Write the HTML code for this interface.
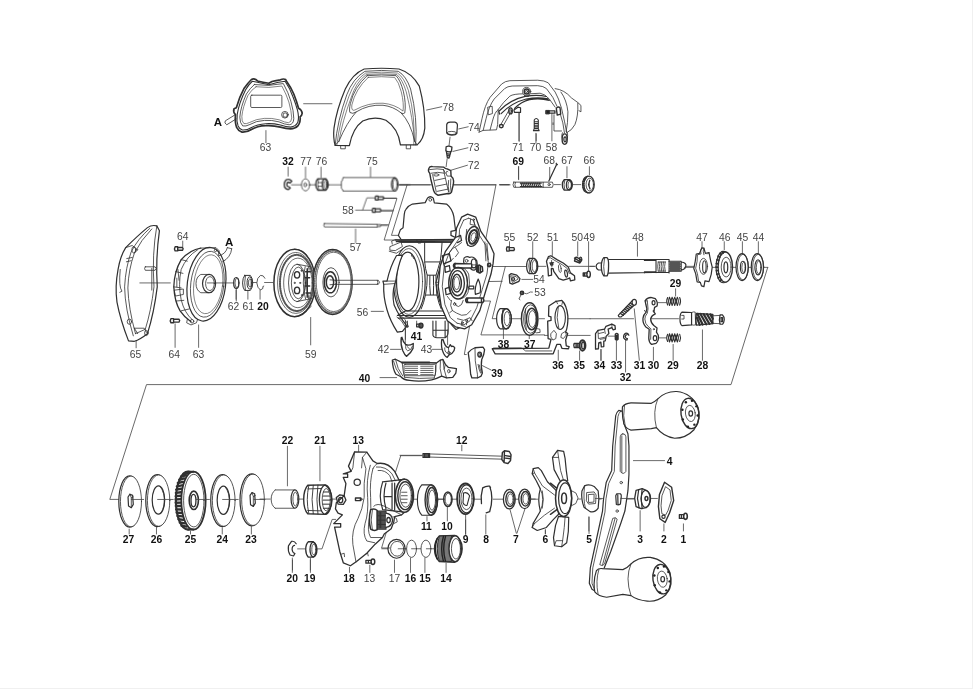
<!DOCTYPE html>
<html><head><meta charset="utf-8"><title>Parts diagram</title>
<style>
html,body{margin:0;padding:0;background:#fff;}
svg{display:block}
svg *{vector-effect:non-scaling-stroke}
.d{fill:none;stroke:#303030;stroke-width:0.8;stroke-linecap:round;stroke-linejoin:round}
.w{fill:#fff}
.k{fill:#222}
.g{fill:#888}
.l{stroke:#444;stroke-width:0.8}
text{font-family:"Liberation Sans",sans-serif;font-size:10.3px;fill:#444;text-anchor:middle;stroke:none}
text.b{font-weight:bold;fill:#111}
</style></head><body>
<svg width="973" height="689" viewBox="0 0 973 689">
<rect width="973" height="689" fill="#fff"/>
<rect x="972" y="0" width="1" height="689" fill="#f0f0f0"/><rect x="0" y="688" width="973" height="1" fill="#f0f0f0"/>
<g class="d" style="opacity:.999">
<g><path d="M767.7,267.5 L731,384.6 H146.5 L109.8,499.4 H119" class="l"/>
<path d="M490.5,266.5 H526 M505.3,266.5 L492.2,318.7 H498.5 M460,282 L502.2,281.3 M482.7,301 H490.5 L480.9,334.9 H544.5" class="l"/></g>
<g transform="translate(205 65) scale(0.14507)"><path d="M320,100 Q335,92 350,100 L362,110 Q400,118 440,126 L462,114 Q490,105 520,102 Q540,92 556,100 L562,112 Q590,150 612,200 Q632,250 645,298 Q668,310 670,332 Q668,350 656,356 Q660,395 640,420 Q620,440 590,440 Q560,440 520,428 Q470,415 420,418 Q360,420 320,445 Q290,465 255,463 Q230,455 218,430 Q205,395 210,342 Q192,325 200,302 L216,294 Q235,225 270,160 Q295,125 320,100Z" style="stroke-width:1.7"/>
<path d="M326,112 Q400,128 440,136 Q500,118 552,112 Q585,160 605,215 Q625,265 637,310 Q650,360 640,395 Q625,425 590,428 Q560,428 520,414 Q470,402 420,405 Q360,408 318,432 Q290,450 258,448 Q238,442 228,420 Q216,385 222,340 Q235,260 280,170 Q300,135 326,112Z" style="stroke-width:1.1"/>
<path d="M340,135 Q440,150 540,128 Q575,190 592,250 Q612,320 612,370 Q610,410 580,412 Q550,410 510,392 Q460,378 410,382 Q350,385 310,410 Q280,425 260,420 Q240,400 240,360 Q245,290 285,200 Q310,160 340,135Z"/>
<path d="M352,150 Q440,162 530,145 Q560,200 578,255 Q596,320 598,365 Q596,395 575,398 Q550,396 512,378 Q460,364 410,368 Q350,372 308,396 Q285,408 268,404 Q252,390 254,355 Q260,290 296,210 Q320,170 352,150Z" style="stroke-width:.6"/>
<rect x="315" y="208" width="215" height="85" rx="8"/>
<circle cx="551" cy="343" r="23"/><circle cx="553" cy="345" r="15"/>
<path d="M205,345 L140,385 Q130,400 150,412 L214,372"/>
<path d="M420,452 V535 M680,267 H875" class="l"/></g>
<g transform="translate(325 60) scale(0.14507)"><path d="M70,588 Q55,540 62,470 Q80,340 140,200 Q190,95 270,62 Q390,52 510,62 Q600,90 650,180 Q690,330 688,470 Q680,550 635,585 L520,585 Q505,470 420,415 Q340,385 260,420 Q190,470 168,590 Z" style="stroke-width:1.2"/>
<path d="M70,588 Q85,420 150,240 Q190,130 275,78 Q390,66 505,78 Q560,110 590,200 Q640,400 625,585"/>
<path d="M82,585 Q100,420 165,250 Q205,140 280,90 Q390,78 500,90 Q545,120 575,210 Q625,400 612,585" style="stroke-width:.6"/>
<path d="M96,560 Q120,420 180,260 Q215,150 285,100 Q390,90 495,100 Q535,135 560,220 Q605,400 618,560" style="stroke-width:.6"/>
<path d="M290,108 Q390,98 490,108 Q520,140 540,215 Q560,300 550,365 Q540,375 525,365 Q470,320 400,312 Q300,305 215,358 Q190,375 172,362 Q165,345 175,300 Q200,190 290,108Z"/>
<path d="M298,120 Q390,110 480,120 Q508,150 526,220 Q545,300 538,352 Q480,305 400,298 Q300,292 205,345 Q180,355 185,310 Q210,200 298,120Z" style="stroke-width:.6"/>
<path d="M96,560 Q150,430 215,358 M618,560 Q590,430 525,365 M70,588 L96,560 M635,585 L618,560"/>
<path d="M108,590 V612 H140 V590 M560,588 V612 H590 V588"/>
<path d="M700,345 L805,322" class="l"/></g>
<g transform="translate(270 150) scale(0.14507)"><path d="M125,118 V180 M245,118 V190 M352,118 V190 M693,118 V185 M590,545 V640 M148,240 H215 M275,240 H315 M400,240 H490 M885,240 H965" class="l"/>
<path d="M590,415 H638 L668,330 H725 M638,415 H705 M785,332 H870 M765,415 H850 M765,520 H810" class="l"/>
<!-- 32 clip -->
<path d="M150,215 Q135,195 112,205 Q92,225 100,255 Q108,272 128,272 L140,262 L128,252 Q118,255 116,240 Q116,222 128,222 L138,228 Z" style="stroke-width:1.3"/>
<!-- 77 -->
<ellipse cx="245" cy="240" rx="28" ry="42"/><ellipse cx="243" cy="240" rx="9" ry="14"/>
<!-- 76 -->
<path d="M330,198 H385 Q402,215 402,240 Q402,262 385,277 H330 Q315,262 315,238 Q315,212 330,198Z" style="stroke-width:1.3"/>
<ellipse cx="378" cy="238" rx="18" ry="38" style="stroke-width:1.3"/><ellipse cx="380" cy="238" rx="10" ry="26"/>
<path d="M335,200 Q322,238 335,275 M330,225 H360 M330,250 H360"/>
<!-- 75 -->
<path d="M505,190 H860 M505,283 H860 M505,190 Q498,195 500,210 L492,215 V265 L500,272 Q500,283 505,283"/>
<ellipse cx="860" cy="237" rx="22" ry="46" style="stroke-width:1.3"/><ellipse cx="862" cy="237" rx="14" ry="36"/>
<!-- 58 screws -->
<path d="M728,318 H745 V345 H728 Q722,332 728,318Z M745,322 H780 Q788,332 780,342 H745" style="stroke-width:1.3"/>
<path d="M708,402 H725 V430 H708 Q702,416 708,402Z M725,406 H760 Q768,416 760,426 H725" style="stroke-width:1.3"/>
<!-- 57 -->
<path d="M375,507 L740,512 L745,514 H762 V528 H745 L740,532 L375,530 Q365,518 375,507Z M740,512 V532"/></g>
<g transform="translate(400 105) scale(0.14507)"><path d="M405,165 L470,150 M345,222 L338,280 M365,320 L468,295 M325,370 L318,425 M350,450 L465,415 M0,550 H215 M365,550 H660 M685,550 H750 M822,55 V250 M937,195 V265 M818,425 V515" class="l"/>
<!-- 74 -->
<path d="M322,135 Q325,118 345,118 H378 Q395,122 396,138 L392,195 Q385,208 358,208 Q330,205 322,192 Z" style="stroke-width:1.2"/>
<ellipse cx="357" cy="193" rx="33" ry="11"/>
<!-- 73 -->
<path d="M318,288 Q335,278 358,290 L355,318 Q338,328 316,316 Z M320,322 L326,362 L338,366 L350,324 M322,335 L346,340 M324,348 L343,352" style="stroke-width:1.3"/>
<!-- 72 -->
<path d="M200,435 Q205,422 225,425 L300,428 Q315,442 325,440 L350,452 L352,490 L365,505 Q372,520 368,545 L355,600 Q345,615 330,610 L262,622 Q240,615 232,590 L212,510 L205,470 Q190,455 200,435Z" style="stroke-width:1.4"/>
<path d="M205,445 Q260,435 300,445 L312,470 M215,470 Q260,458 305,470 L335,600 M225,480 L250,600 M305,470 L300,445 M330,460 Q318,450 318,470 L325,490 L352,490 M335,520 Q328,560 338,600 M350,510 Q345,560 352,598 M240,520 L310,505 M250,560 L322,545 M258,595 L330,580" />
<ellipse cx="250" cy="482" rx="18" ry="8"/></g>
<g transform="translate(475 70) scale(0.11616)"><path d="M378,365 V610 M527,550 V610 M662,375 V610" class="l"/>
<path d="M35,535 L60,420 Q85,300 130,235 L230,120 Q260,95 300,92 L540,88 Q600,90 630,110 L690,190 Q720,240 745,330 L770,440 L790,540"/>
<path d="M70,520 L95,420 Q120,310 165,250 L255,160 Q280,140 320,138 L540,135 Q590,138 615,160 L670,235 L705,310"/>
<path d="M35,535 L70,520 L185,515 L195,470 L200,340 Q240,280 300,225 Q330,205 420,205 M470,205 L560,200 Q600,205 640,250 L690,320"/>
<path d="M112,320 L148,312 L150,375 L118,385 Z M130,515 L150,440 Q170,360 200,340"/>
<path d="M205,355 Q300,255 440,225 Q540,210 615,228 M225,375 Q320,280 440,250 Q540,232 630,248 M205,355 L212,380 M340,330 Q400,272 470,255 Q560,240 640,262" style="stroke-width:1.2"/>
<circle cx="445" cy="185" r="35" class="w"/><circle cx="445" cy="185" r="21" style="stroke-width:1.5"/><circle cx="445" cy="185" r="9"/>
<path d="M425,215 L430,228 H462 L466,212"/>
<path d="M290,350 L222,470 M308,365 L240,485"/><ellipse cx="226" cy="483" rx="16" ry="14" class="w" style="stroke-width:1.4"/>
<ellipse cx="306" cy="352" rx="15" ry="26" class="w" style="stroke-width:1.4"/><ellipse cx="308" cy="354" rx="7" ry="14"/>
<path d="M335,345 L370,320 L392,325 V365 H340 Z" class="w" style="stroke-width:1.2"/>
<path d="M612,348 H640 V378 H612 Z" class="k" style="stroke-width:1"/><path d="M640,352 H688 V372 H640" style="stroke-width:1.3"/>
<path d="M700,330 Q715,310 732,325 L738,380 L708,388 Z" class="w" style="stroke-width:1.4"/>
<path d="M680,385 V525 H745 M735,380 Q760,450 770,540 M672,455 V470"/>
<path d="M690,160 Q770,170 830,240 L885,280 L912,305 V360 L895,350 M885,285 Q890,400 860,470 Q835,520 790,540 M740,190 Q790,260 800,360 Q800,460 785,530"/>
<ellipse cx="772" cy="595" rx="22" ry="45" class="w" style="stroke-width:1.4"/><ellipse cx="775" cy="597" rx="10" ry="22" style="stroke-width:1.2"/>
<path d="M752,540 Q742,560 750,585 M795,540 Q800,560 796,585"/>
<path d="M510,430 Q527,405 545,430 V505 L552,522 H503 L510,505 Z M510,445 H545 M510,460 H545 M510,475 H545 M510,490 H545 M510,505 H545" style="stroke-width:1.1"/></g>
<g transform="translate(500 155) scale(0.12333)"><path d="M150,95 V195 M403,100 V200 M543,95 V185 M725,95 V160 M0,240 H75 M440,240 H490 M590,240 H655" class="l"/>
<path d="M460,75 L396,210 M455,72 L465,78" style="stroke-width:1.2"/>
<path d="M112,220 H425 Q438,240 425,262 H112 Q98,240 112,220Z M125,222 Q115,240 125,260 M350,222 V262"/>
<path d="M168,225 L180,258 M183,225 L195,258 M198,225 L210,258 M213,225 L225,258 M228,225 L240,258 M243,225 L255,258 M258,225 L270,258 M273,225 L285,258 M288,225 L300,258 M303,225 L315,258 M318,225 L330,258 M165,228 H335 M165,256 H340" style="stroke-width:1.1"/>
<circle cx="398" cy="240" r="9"/>
<!-- 67 -->
<path d="M520,200 H565 Q588,215 586,245 Q584,275 565,285 H520 Q505,270 505,242 Q505,215 520,200Z" style="stroke-width:1.3"/>
<ellipse cx="560" cy="243" rx="22" ry="38" style="stroke-width:1.2"/><ellipse cx="565" cy="243" rx="14" ry="28"/>
<path d="M525,205 Q512,240 525,280"/>
<!-- 66 -->
<ellipse cx="722" cy="240" rx="42" ry="68" style="stroke-width:1.3"/>
<path d="M712,172 Q670,180 670,240 Q670,300 712,308" style="stroke-width:1.2"/>
<ellipse cx="728" cy="240" rx="30" ry="52"/>
<path d="M728,205 L718,240 L730,275 M722,225 V255" style="stroke-width:1.3"/>
<path d="M672,215 H684 M669,230 H681 M669,245 H681 M670,260 H682 M675,275 H687 M683,290 H693 M678,200 H690 M688,187 H698" style="stroke-width:1.2"/></g>
<g transform="translate(105 215) scale(0.21772)"><path d="M357,120 V145 M143,580 V610 M322,500 V608 M430,505 V608 M603,340 V395 M160,312 H300 M470,312 H590" class="l"/>
<!-- 65 -->
<path d="M195,58 Q215,44 238,50 L250,72 Q232,200 240,330 Q225,450 195,545 Q160,572 135,580 L108,578 Q70,480 55,400 Q45,330 60,250 Q70,190 95,150 Q150,95 195,58Z" style="stroke-width:1.2"/>
<path d="M238,50 Q215,180 225,330 Q212,440 185,525 M205,62 Q150,110 120,170 Q95,240 90,330 Q92,430 130,555 M215,64 Q165,115 135,175 Q108,250 105,335 Q108,430 140,545 M95,150 L125,140 L150,160 M135,175 L150,160 M70,250 Q62,330 78,350 L68,355 M140,545 L185,525 M135,520 H180 L195,545 M135,520 L150,545"/>
<path d="M215,245 V345 M185,238 H230 Q240,246 230,254 H185 Q178,246 185,238Z"/>
<ellipse cx="132" cy="160" rx="9" ry="14"/><ellipse cx="112" cy="490" rx="10" ry="12"/><ellipse cx="190" cy="542" rx="8" ry="12"/>
<path d="M100,200 L125,195 M98,215 L120,210"/>
<!-- 64 screws -->
<path d="M322,146 H334 V165 H322 Q316,155 322,146Z M334,149 H356 Q362,155 356,162 H334" style="stroke-width:1.4"/>
<path d="M303,476 H315 V495 H303 Q297,485 303,476Z M315,479 H340 Q346,485 340,492 H315" style="stroke-width:1.4"/>
<!-- 63 side -->
<ellipse cx="466" cy="318" rx="88" ry="170" transform="rotate(7 466 318)" style="stroke-width:1.2"/>
<ellipse cx="470" cy="318" rx="76" ry="152" transform="rotate(7 470 318)"/>
<ellipse cx="474" cy="318" rx="66" ry="136" transform="rotate(7 474 318)" style="stroke-width:.6"/>
<path d="M440,152 Q390,160 350,205 Q318,260 316,330 Q320,400 345,440 Q365,470 395,490" style="stroke-width:1.3"/>
<path d="M425,160 Q375,190 350,250 Q335,320 350,390 Q365,450 400,480 M350,205 L378,212 M325,260 L358,268 M316,330 L350,335 M328,395 L362,392 M350,440 L385,432 M320,345 L360,340 V365 L325,372 Z M335,250 L340,300 M330,290 V330" />
<path d="M440,152 L510,150 L525,165 L520,185 M378,480 L375,495 L395,505 L420,495 L425,480"/><circle cx="400" cy="488" r="8"/><circle cx="508" cy="162" r="6"/>
<ellipse cx="478" cy="315" rx="30" ry="42" style="stroke-width:1.2"/><ellipse cx="482" cy="315" rx="20" ry="32"/>
<path d="M478,273 H440 Q418,285 418,315 Q418,345 440,357 H478"/>
<path d="M522,188 Q555,180 562,150 M540,215 Q578,195 582,155 M562,150 L582,155"/>
<!-- 62 -->
<ellipse cx="603" cy="312" rx="12" ry="25" style="stroke-width:1.2"/><ellipse cx="606" cy="312" rx="9" ry="21"/></g>
<g transform="translate(230 225) scale(0.20321)"><path d="M30,320 V365 M88,325 V365 M148,320 V365 M397,455 V590 M170,283 H210 M112,283 H130" class="l"/>
<!-- 61 -->
<path d="M72,248 H100 Q112,262 112,285 Q112,308 100,322 H72 Q62,308 62,285 Q62,262 72,248Z" style="stroke-width:1"/>
<ellipse cx="96" cy="285" rx="12" ry="30" style="stroke-width:1"/><ellipse cx="98" cy="285" rx="7" ry="20"/>
<path d="M76,250 Q68,285 76,320"/>
<!-- 20 -->
<path d="M172,262 Q165,245 150,248 Q132,260 132,285 Q134,310 150,320 L162,312 Q158,300 166,300"/>
<!-- 59 spool -->
<ellipse cx="318" cy="285" rx="102" ry="166" style="stroke-width:1.5"/>
<ellipse cx="324" cy="285" rx="90" ry="150" style="stroke-width:.7"/>
<ellipse cx="328" cy="285" rx="82" ry="138" style="stroke-width:2;stroke-dasharray:1.2 1.2;stroke:#555"/>
<ellipse cx="334" cy="285" rx="70" ry="122" style="stroke-width:.7"/>
<path d="M318,119 Q350,118 380,150 M318,451 Q350,452 400,400" />
<!-- hub -->
<ellipse cx="330" cy="285" rx="42" ry="92" class="w"/>
<ellipse cx="336" cy="285" rx="34" ry="78"/>
<path d="M330,193 L395,205 M330,377 L400,362 M370,205 Q350,285 372,365 M385,210 Q368,285 388,362" />
<ellipse cx="330" cy="245" rx="13" ry="16" style="stroke-width:1.3"/><ellipse cx="330" cy="322" rx="13" ry="16" style="stroke-width:1.3"/>
<circle cx="352" cy="225" r="3"/><circle cx="354" cy="345" r="3"/><circle cx="318" cy="285" r="3"/><circle cx="345" cy="285" r="3"/>
<path d="M372,230 H395 M370,260 H392 M370,300 H392 M374,335 H396 M380,215 V355" style="stroke-width:1.5"/>
<!-- right flange -->
<ellipse cx="505" cy="280" rx="96" ry="160" class="w" style="stroke-width:1.5"/>
<ellipse cx="510" cy="280" rx="86" ry="146" style="stroke-width:.7"/><ellipse cx="508" cy="280" rx="91" ry="153" style="stroke-width:1.6;stroke-dasharray:1 1.4;stroke:#666"/>
<ellipse cx="497" cy="282" rx="40" ry="72"/>
<ellipse cx="494" cy="282" rx="30" ry="52" style="stroke-width:1.5"/>
<ellipse cx="492" cy="282" rx="18" ry="32" style="stroke-width:1.5"/>
<path d="M492,270 L520,272 H730 Q742,282 730,292 H520 L492,294 M520,272 Q528,282 520,292 M725,272 Q732,282 725,292" />
<path d="M695,425 H755" class="l"/></g>
<g transform="translate(375 175) scale(0.20321)"><path d="M120,48.5 H270 M390,48.5 H595 M615,48.5 H665 M158,48.5 L81,297 H115 M40,115 H108 L45,320 H95 M30,178 H88 M30,245 H66 M595,48.5 L440,880" class="l"/>
<!-- hood -->
<path d="M115,297 L125,269 L138,260 L144,194 Q146,175 152,169 Q165,150 184,143 L247,136 L258,114 Q272,100 287,114 L292,137 L352,143 Q380,165 388,205 L392,240 L396,269 L436,286 L445,317 L130,320 L115,297Z" class="w" style="stroke-width:1.2"/>
<circle cx="272" cy="122" r="7"/>
<path d="M100,320 L445,317 M105,328 L440,325" style="stroke-width:1.4"/>
<path d="M205,320 L212,335 H225 L228,320"/>
<!-- ears -->
<path d="M75,352 L128,330 L135,352 L100,372 L75,370 Z M85,340 L82,325 L100,318 L128,322 M70,375 L105,385 L140,362"/>
<path d="M380,335 L418,320 L432,345 L398,365 Z M398,365 L400,395 M418,290 L440,295 L440,330 L418,320"/></g>
<g transform="translate(375 225) scale(0.17422)"><path d="M150,100 H440 M285,100 V210 Q288,250 300,290 Q300,350 290,400 Q280,450 265,482 M385,100 Q382,160 375,205 Q362,250 350,290 Q350,350 355,400 Q365,450 380,482 M285,212 H375 M300,288 H350 M290,402 H355 M315,290 Q312,350 318,400 M335,290 Q338,350 335,400" style="stroke-width:1"/>
<path d="M395,175 Q372,240 350,330 L352,345 Q360,420 395,500 Q425,565 465,600 L485,590 Q440,540 420,480 Q400,400 405,322 Z" class="w" style="stroke-width:1.2"/>
<path d="M350,330 L405,322 M352,345 L404,338"/></g>
<g transform="translate(375 250) scale(0.20321)"><!-- ring -->
<ellipse cx="169" cy="155" rx="78" ry="176" class="w" style="stroke-width:1.2"/>
<ellipse cx="166" cy="155" rx="68" ry="162" style="stroke-width:.7"/>
<ellipse cx="161" cy="155" rx="55" ry="145" class="w" style="stroke-width:1.2"/>
<path d="M185,30 L190,42 M180,20 V30"/>
<path d="M106,27 Q75,80 59,153 L39,153 L43,169 Q40,230 59,294 Q75,350 110,404 L135,400 L157,373 Q120,330 94,271 Q82,216 98,165 L102,153 Q112,80 135,25 Z" class="w" style="stroke-width:1.2"/>
<path d="M43,169 L98,165 M59,153 H102"/>
<!-- lower bars -->
<path d="M150,300 H340 M110,322 H345 M115,335 H350 M150,300 L110,322" style="stroke-width:1.1"/>
<path d="M108,330 Q130,340 150,380 L165,378 Q150,335 125,322"/>
<path d="M150,350 V440 M160,350 V380 M205,350 V365"/>
<!-- 41 screw -->
<ellipse cx="226" cy="372" rx="10" ry="12" style="stroke-width:1.4;fill:#555"/><path d="M205,365 H222 M205,378 H222 M205,365 V378" style="stroke-width:1.3"/>
<!-- foot block -->
<path d="M285,350 V420 Q290,432 305,432 H345 Q360,425 360,400 V350 M300,350 V425 M345,350 V430 M285,395 H360" style="stroke-width:1.1"/></g>
<g transform="translate(425 205) scale(0.20305)"><path d="M210,45 L250,60 L275,130 L320,195 L340,240 L335,290 L325,340 L300,420 L270,520 L230,590 L195,610 L150,600 L110,570 L80,500 L65,400 L75,300 L100,230 L150,160 L155,115 L180,60 Z" class="w" style="stroke-width:1.3"/>
<path d="M215,65 L238,75 L262,140 L300,200 L312,285 L305,340 L282,415 L255,505 L222,570 L192,590 L158,582 M190,75 L170,120 L168,165 L118,238 L95,300 L85,400 L98,490 L125,555 L158,582"/>
<path d="M215,65 L190,75 M225,68 L222,95 L245,100 L240,75 M295,182 L300,275 M305,190 L312,270"/>
<circle cx="240" cy="72" r="4"/>
<!-- top bearing -->
<ellipse cx="235" cy="155" rx="31" ry="50" transform="rotate(14 235 155)" style="stroke-width:1.3"/>
<ellipse cx="237" cy="157" rx="20" ry="35" transform="rotate(14 237 157)" style="stroke-width:2"/>
<ellipse cx="238" cy="158" rx="11" ry="22" transform="rotate(14 238 158)"/>
<path d="M205,120 Q195,160 210,200"/>
<!-- screw right -->
<circle cx="316" cy="296" r="8" style="stroke-width:1.5"/><path d="M308,290 L322,286 M310,300 L325,297"/>
<!-- keyhole -->
<path d="M192,262 Q205,248 220,258 Q240,250 255,275 Q262,305 245,320 Q228,325 218,300 Q195,300 190,280 Z" style="stroke-width:1.2"/>
<ellipse cx="240" cy="288" rx="12" ry="22" style="stroke-width:1.2"/><circle cx="205" cy="275" r="7"/>
<!-- horizontal post -->
<path d="M145,288 Q135,298 145,310 H230 V290 Z M150,288 Q142,298 150,310" class="w" style="stroke-width:1.4"/>
<path d="M255,300 L268,296 L282,305 L284,325 L270,335 L255,328 Z M262,300 V330 M272,298 V333" style="stroke-width:1.6"/>
<path d="M230,295 H255 M230,308 H255"/>
<!-- left blocks -->
<path d="M150,160 L128,150 L128,130 L150,125 M85,250 L120,240 L128,275 L92,290 Z M92,290 L95,300 M98,305 L120,298 L124,325 L100,332 Z M100,412 L122,405 L126,435 L104,442 Z M150,160 L175,150 L180,175 L160,185" style="stroke-width:1.3"/>
<path d="M118,238 L135,215 L160,200 L180,185 M128,275 L140,262 M150,210 L165,235 L150,255"/>
<!-- center boss -->
<ellipse cx="163" cy="385" rx="46" ry="78" style="stroke-width:1.4"/>
<ellipse cx="160" cy="385" rx="34" ry="62" style="stroke-width:1.3"/>
<ellipse cx="157" cy="385" rx="22" ry="44" style="stroke-width:1.5"/>
<ellipse cx="156" cy="385" rx="14" ry="32"/>
<path d="M163,307 Q200,305 215,340 Q225,385 212,430 Q200,458 175,462"/>
<!-- teardrop -->
<path d="M262,365 Q278,400 272,432 L248,440 Q242,410 262,365Z" style="stroke-width:1.2"/>
<!-- small post -->
<path d="M218,400 Q212,406 218,413 H240 V400 Z" style="stroke-width:1.2"/>
<!-- post 2 -->
<path d="M205,458 Q195,468 205,480 H285 Q295,470 285,458 Z M212,458 Q204,468 212,480 M278,458 V480" class="w" style="stroke-width:1.4"/>
<!-- lower left details -->
<path d="M130,470 Q120,495 135,520 L155,532 Q180,550 205,540 L225,520 M145,480 Q150,500 165,500 L180,490 L188,470 M135,520 L122,530 M160,560 L190,568 L222,555 L232,570 M182,572 L178,592 L198,598 M208,565 L204,590 M110,450 L125,470"/>
<circle cx="146" cy="488" r="6"/><circle cx="205" cy="570" r="5"/><circle cx="185" cy="580" r="4"/></g>
<g transform="translate(380 320) scale(0.12333)"><path d="M85,238 H170 M425,238 H500 M0,467 H135 M830,370 L900,405 M205,60 V190 M548,80 V200 M685,280 H700" class="l"/>
<!-- 42 -->
<path d="M172,142 Q165,200 185,250 Q200,285 215,295 Q250,270 268,230 L270,190 Q235,212 210,200 Q185,175 178,140 Z" class="w" style="stroke-width:1.3"/>
<path d="M210,200 Q200,235 225,250 Q255,245 262,215 M220,215 L240,235"/>
<!-- 43 -->
<path d="M500,160 Q492,220 515,270 Q530,300 545,302 L560,282 Q590,272 600,250 L606,225 Q595,208 580,215 L570,200 L555,225 Q525,215 512,160Z" class="w" style="stroke-width:1.3"/>
<path d="M525,225 Q520,255 545,270 M555,225 L560,282"/><circle cx="558" cy="265" r="10"/>
<!-- 40 -->
<path d="M100,325 L125,318 L180,345 L400,345 L455,350 L490,325 L510,320 L530,360 L555,385 L620,395 L615,430 L590,465 L540,470 L500,455 Q450,480 420,485 Q330,502 240,490 Q190,485 170,460 L130,440 Q102,400 100,325Z" class="w" style="stroke-width:1.3"/>
<path d="M125,318 Q140,400 185,455 M110,335 Q125,400 165,450 M180,345 Q185,420 200,465 M455,350 Q460,420 440,470 M490,325 Q480,400 500,455 M510,320 L520,400 L540,470 M530,360 L520,400 M200,465 Q320,480 440,470 M180,346 H455" />
<path d="M180,345 H400" style="stroke-width:2"/>
<rect x="195" y="360" width="255" height="92" rx="8"/>
<path d="M205,375 H305 M205,392 H305 M205,409 H305 M205,426 H305 M205,443 H305 M330,375 H430 M330,392 H430 M330,409 H430 M330,426 H430 M330,443 H430" style="stroke-width:.9;stroke:#555"/>
<ellipse cx="558" cy="415" rx="10" ry="14"/>
<!-- 39 -->
<path d="M715,265 Q740,235 770,225 L835,220 L848,240 Q845,280 825,320 Q815,370 830,430 L820,455 L790,470 L745,470 L735,440 Q730,350 715,265Z" class="w" style="stroke-width:1.3"/>
<path d="M770,228 Q765,330 790,440 L790,470 M795,360 Q800,400 815,430 M805,365 Q810,400 822,425"/>
<ellipse cx="808" cy="280" rx="15" ry="20" style="stroke-width:1.3"/><ellipse cx="810" cy="282" rx="8" ry="12"/></g>
<g transform="translate(495 225) scale(0.14510)"><path d="M100,115 V150 M260,115 V225 M395,115 V210 M570,115 V215 M645,115 V320 M185,375 H260 M295,285 H350 M510,285 H690" class="l"/>
<path d="M205,472 Q220,478 232,468 Q240,458 258,462" class="l"/>
<!-- 55 -->
<path d="M82,152 H98 V180 H82 Q76,166 82,152Z M98,156 H130 Q138,166 130,176 H98" style="stroke-width:1.4"/>
<!-- 52 -->
<path d="M235,230 H270 Q295,245 295,285 Q295,320 270,335 H235 Q218,320 218,282 Q218,248 235,230Z" class="w" style="stroke-width:1.2"/>
<ellipse cx="268" cy="283" rx="25" ry="52" style="stroke-width:1.2"/><ellipse cx="272" cy="283" rx="16" ry="40"/>
<path d="M240,232 Q225,282 240,332"/>
<!-- 51 -->
<path d="M355,250 L368,218 L385,212 L430,240 L470,262 L505,290 L520,330 L548,350 L550,378 L520,385 L515,365 L500,372 L470,380 L440,370 L405,320 L400,300 L388,300 L390,345 L368,350 L365,300 Z" class="w" style="stroke-width:1.3"/>
<path d="M368,230 L380,225 L425,252 L465,275 L498,300 L512,335 M375,262 L405,258 M390,245 L392,290"/>
<ellipse cx="447" cy="300" rx="9" ry="28" transform="rotate(-8 447 300)"/><ellipse cx="490" cy="335" rx="9" ry="24" transform="rotate(-8 490 335)" style="stroke-width:1.2"/>
<circle cx="391" cy="268" r="8" style="stroke-width:1.4"/>
<!-- 50 -->
<path d="M548,228 L560,222 L598,240 L590,255 Z M552,232 L548,248 L585,262 L592,250" style="stroke-width:1.4"/>
<ellipse cx="590" cy="235" rx="8" ry="14" style="stroke-width:1.2"/>
<!-- 49 -->
<ellipse cx="645" cy="340" rx="12" ry="22" style="stroke-width:1.4"/>
<path d="M608,330 H635 M608,352 H635 M608,330 V352 M618,330 V352" style="stroke-width:1.4"/>
<!-- 54 -->
<path d="M98,345 L112,335 L150,345 L172,370 L165,388 L120,408 L102,400 Z" class="w" style="stroke-width:1.3"/>
<path d="M110,350 L145,355 L160,372 L122,395 Z"/><circle cx="125" cy="372" r="10" style="stroke-width:1.3"/>
<!-- 53 -->
<circle cx="186" cy="468" r="11" style="stroke-width:1.6"/><circle cx="186" cy="468" r="5"/>
<path d="M180,480 L165,510 L172,515"/></g>
<g transform="translate(590 225) scale(0.14510)"><path d="M327,115 V215 M772,115 V155 M660,285 H720 M590,440 V490 M470,535 H525 M0,285 H30" class="l"/>
<path d="M80,262 H58 Q42,270 42,285 Q42,302 58,310 H80" style="stroke-width:1.2"/>
<path d="M95,225 H118 Q130,235 128,285 Q128,335 118,350 H95 Q78,330 78,285 Q78,245 95,225Z" class="w" style="stroke-width:1.3"/>
<path d="M100,228 Q88,285 100,348"/>
<path d="M128,238 H545 M128,332 L545,326 M375,238 V245 H455 M375,330 V322 H455 M455,240 V328 M545,238 V330" style="stroke-width:1.1"/>
<path d="M470,255 Q462,285 470,318 M482,255 Q474,285 482,318 M494,255 Q486,285 494,318 M506,255 Q498,285 506,318 M518,255 Q510,285 518,318 M470,255 H520 M470,318 H520" />
<path d="M545,250 H628 M545,318 H628 M628,255 Q668,260 660,285 Q660,305 628,312 M628,250 V318" style="stroke-width:1.2"/>
<path d="M552,255 V315 M560,255 V315 M568,255 V315 M576,255 V315 M584,255 V315 M592,255 V315 M600,255 V315 M608,255 V315 M616,255 V315 M548,270 H625 M548,285 H625 M548,300 H625" style="stroke-width:1.2;stroke:#555"/>
<!-- spring 29 top -->
<path d="M535,500 Q522,525 535,552 M548,498 Q535,525 548,555 M548,498 Q562,525 548,555 M566,498 Q553,525 566,555 M566,498 Q580,525 566,555 M584,498 Q571,525 584,555 M584,498 Q598,525 584,555 M602,498 Q589,525 602,555 M602,498 Q616,525 602,555 M618,500 Q630,525 618,552" style="stroke-width:1.1"/></g>
<g transform="translate(680 225) scale(0.14510)"><path d="M305,115 V170 M430,115 V195 M540,115 V195 M30,292 H95 M215,292 H245 M365,292 H390 M470,292 H495 M575,292 H605" class="l"/>
<!-- 47 -->
<path d="M150,158 L165,160 L175,195 L200,190 L212,250 L222,290 L215,340 L200,390 L172,385 L165,425 L148,420 L140,395 L118,392 L108,335 L95,300 L105,250 L112,200 L135,195 Z" class="w" style="stroke-width:1.2"/>
<path d="M150,158 L142,175 L145,200 L120,205 L118,250 L108,298 L120,335 L128,385 L140,395 M165,160 L160,180 L165,205 M200,190 L190,200"/>
<ellipse cx="162" cy="285" rx="28" ry="55"/><ellipse cx="168" cy="288" rx="12" ry="42" style="stroke-width:1.1"/>
<!-- 46 -->
<ellipse cx="300" cy="290" rx="52" ry="108" class="w" style="stroke-width:1.2"/>
<ellipse cx="312" cy="290" rx="50" ry="104" class="w" style="stroke-width:1.4"/>
<path d="M262,215 L275,222 M254,240 L268,245 M250,265 L264,268 M248,290 L262,291 M250,315 L264,314 M254,340 L268,336 M262,365 L275,358 M275,385 L286,376 M275,195 L287,204 M290,183 L298,194" style="stroke-width:1.6"/>
<ellipse cx="318" cy="290" rx="34" ry="68"/><ellipse cx="316" cy="292" rx="13" ry="38" style="stroke-width:1.2"/>
<!-- 45 -->
<ellipse cx="428" cy="290" rx="42" ry="93" class="w" style="stroke-width:1.2"/>
<ellipse cx="434" cy="290" rx="38" ry="88"/>
<ellipse cx="434" cy="292" rx="18" ry="42" style="stroke-width:1.1"/><ellipse cx="438" cy="292" rx="12" ry="34"/>
<!-- 44 -->
<ellipse cx="533" cy="290" rx="42" ry="93" class="w" style="stroke-width:1.2"/>
<ellipse cx="539" cy="290" rx="38" ry="88"/>
<ellipse cx="538" cy="292" rx="22" ry="52" style="stroke-width:1.1"/><ellipse cx="542" cy="292" rx="16" ry="44"/></g>
<g transform="translate(485 290) scale(0.14510)"><path d="M127,270 V335 M305,310 V335 M505,415 V485 M652,420 V485 M800,410 V485 M180,198 H245 M375,198 H410 M555,198 H725 M410,313 H725" class="l"/>
<!-- 38 -->
<path d="M105,128 H148 Q182,150 182,198 Q182,248 148,268 H105 Q80,248 80,198 Q80,150 105,128Z" class="w" style="stroke-width:1.2"/>
<ellipse cx="148" cy="198" rx="33" ry="70" style="stroke-width:1.2"/><ellipse cx="152" cy="198" rx="20" ry="50"/>
<path d="M125,135 Q112,198 125,262" style="stroke-width:1.4"/>
<!-- 37 -->
<ellipse cx="308" cy="200" rx="57" ry="112" class="w" style="stroke-width:1.5"/>
<ellipse cx="314" cy="200" rx="48" ry="98"/>
<ellipse cx="322" cy="200" rx="36" ry="74" style="stroke-width:1.5"/>
<ellipse cx="326" cy="200" rx="26" ry="58"/>
<path d="M335,270 L352,265 L378,270 L380,292 L355,295 L340,285 M280,130 Q268,200 285,275"/>
<!-- 36 -->
<path d="M440,110 L490,78 L530,72 Q562,100 571,180 Q573,250 556,290 L570,300 L556,345 L560,385 L580,390 L575,405 L530,402 L520,375 L495,375 L470,440 L70,440 L50,405 L440,400 L455,340 L435,335 L432,215 L455,210 L455,185 L438,180 Z" class="w" style="stroke-width:1.3"/>
<ellipse cx="518" cy="190" rx="36" ry="82" class="w" style="stroke-width:1.1"/>
<path d="M505,118 Q488,190 508,262 M455,300 L475,278 L492,300 L488,335 L468,345 L455,325 Z M530,300 L555,285 L560,310 L540,335 L525,328 Z M490,75 L500,95 M535,80 L530,100 M260,405 L280,420 H460 M50,405 L60,400 H250" />
<!-- 35 -->
<ellipse cx="672" cy="382" rx="20" ry="36" style="stroke-width:2"/><ellipse cx="676" cy="382" rx="10" ry="24" style="stroke-width:1.4"/>
<path d="M615,368 H652 M615,396 H652 M615,368 Q608,382 615,396 M628,368 V396 M640,368 V396" style="stroke-width:1.4"/></g>
<g transform="translate(590 290) scale(0.14510)"><path d="M75,410 V485 M182,350 V485 M245,345 V565 M305,130 L340,485 M437,395 V485 M573,375 V485 M775,275 V485 M0,198 H300 M385,198 H610 M470,330 H525 M125,318 H170" class="l"/>
<!-- 31 -->
<path d="M195,175 L290,75 L310,100 L215,185 Q198,190 195,175Z" class="w" style="stroke-width:1.2"/>
<path d="M208,160 L230,175 M218,150 L240,165 M228,140 L250,155 M238,130 L260,145 M248,120 L270,135 M258,110 L280,125 M268,100 L290,115 M278,90 L298,105" style="stroke-width:1.3"/>
<ellipse cx="305" cy="85" rx="15" ry="20" class="w" style="stroke-width:1.2"/>
<!-- 34 -->
<path d="M38,300 L55,278 L100,270 L110,250 L150,235 L172,245 L175,270 L160,275 L150,260 L125,270 L130,300 L112,318 L105,350 L95,352 L95,390 L78,392 L75,360 L60,365 L58,405 L38,408 Z" class="w" style="stroke-width:1.3"/>
<path d="M55,278 L58,335 L105,325 M70,340 L100,335 M100,270 L105,300 M150,235 L152,260 M60,300 L95,292"/>
<!-- 33 -->
<path d="M175,305 Q184,295 193,305 V340 Q184,350 175,340Z M175,315 H193 M175,325 H193 M175,335 H193" style="stroke-width:1.5"/>
<!-- 32 -->
<path d="M268,312 Q262,296 245,298 Q228,310 232,330 Q240,345 255,345 L258,335 Q245,335 243,322 Q243,310 255,308" style="stroke-width:1.2"/>
<!-- 30 -->
<path d="M380,75 Q395,50 425,52 L450,60 Q470,85 462,110 L445,120 L440,150 L450,165 Q425,175 418,198 Q418,225 440,245 L462,262 L458,290 L470,310 Q478,345 455,368 L425,375 Q405,360 405,330 L408,270 L385,255 Q362,230 365,195 Q368,170 385,155 L392,130 L385,100 Z" class="w" style="stroke-width:1.3"/>
<path d="M395,75 L400,130 L395,160 Q378,180 378,200 Q380,235 400,250 L420,268 L418,340 M385,155 L375,140 M380,75 L395,75"/>
<ellipse cx="438" cy="88" rx="10" ry="15" style="stroke-width:1.2"/><ellipse cx="448" cy="332" rx="12" ry="17" style="stroke-width:1.2"/>
<circle cx="437" cy="145" r="4"/><circle cx="440" cy="270" r="4"/>
<!-- spring 29 bottom -->
<path d="M535,305 Q522,330 535,355 M548,302 Q535,330 548,358 M548,302 Q562,330 548,358 M566,302 Q553,330 566,358 M566,302 Q580,330 566,358 M584,302 Q571,330 584,358 M584,302 Q598,330 584,358 M602,302 Q589,330 602,358 M602,302 Q616,330 602,358 M618,305 Q630,330 618,355" style="stroke-width:1.1"/>
<!-- 28 -->
<path d="M635,152 Q620,160 620,198 Q620,238 635,246 L700,240 V155 Z" class="w" style="stroke-width:1.2"/>
<path d="M632,175 H648 V200 H632 M700,155 Q715,148 725,152 L728,240 Q715,245 700,240"/></g>
<g transform="translate(670 290) scale(0.14510)"><path d="M182,162 L295,168 V232 L182,242 Q172,200 182,162Z" class="w" style="stroke-width:1.4"/>
<path d="M190,165 L225,238 M210,165 L250,236 M232,166 L272,234 M255,167 L292,228 M278,168 L295,198 M185,190 L205,240" style="stroke-width:2.2"/>
<path d="M295,178 L345,175 M295,230 L345,232"/>
<path d="M345,172 H362 Q376,185 374,205 Q372,228 362,236 H345 Q336,205 345,172Z M352,190 H362 V218 H352Z" style="stroke-width:1.2"/></g>
<g transform="translate(105 460) scale(0.16445)"><path d="M147,420 V450 M313,410 V450 M520,432 V450 M713,412 V450 M890,405 V450" class="l"/>
<!-- 27 -->
<ellipse cx="150" cy="252" rx="66" ry="156" class="w" style="stroke-width:1.2"/>
<ellipse cx="158" cy="252" rx="64" ry="154" class="w"/>
<path d="M140,225 L152,208 L168,215 L172,270 L160,290 L143,280 Z" style="stroke-width:1.2"/><path d="M152,208 L160,230 L160,290 M160,230 L172,225"/>
<!-- 26 -->
<ellipse cx="318" cy="247" rx="70" ry="158" class="w" style="stroke-width:1.2"/>
<ellipse cx="326" cy="247" rx="68" ry="156" class="w"/>
<ellipse cx="325" cy="243" rx="38" ry="86" style="stroke-width:1.2"/><path d="M335,160 Q365,200 360,260 Q355,310 335,326"/>
<!-- 25 -->
<ellipse cx="505" cy="247" rx="74" ry="176" class="w" style="stroke-width:2.2"/>
<ellipse cx="538" cy="247" rx="74" ry="176" class="w" style="stroke-width:1.8"/>
<path d="M505,71 H538 M505,423 H538" style="stroke-width:2"/>
<path d="M452,120 L482,112 M443,140 L474,133 M437,160 L468,154 M433,180 L464,175 M431,200 L462,196 M430,220 L461,217 M430,240 L461,238 M430,260 L461,259 M431,280 L462,280 M433,300 L464,301 M436,320 L467,322 M441,340 L472,343 M447,360 L478,364 M455,380 L486,385 M466,400 L497,405 M464,100 L494,93 M478,84 L506,78" style="stroke-width:2.4"/>
<ellipse cx="540" cy="247" rx="62" ry="160"/>
<ellipse cx="540" cy="245" rx="28" ry="56" style="stroke-width:1.6"/><ellipse cx="538" cy="247" rx="15" ry="38" style="stroke-width:1.3"/>
<!-- 24 -->
<ellipse cx="714" cy="247" rx="71" ry="158" class="w" style="stroke-width:1.2"/>
<ellipse cx="722" cy="247" rx="69" ry="156" class="w"/>
<ellipse cx="720" cy="245" rx="38" ry="86" style="stroke-width:1.2"/><path d="M730,162 Q760,200 755,262 Q750,312 730,328"/>
<!-- 23 -->
<ellipse cx="892" cy="242" rx="71" ry="158" class="w" style="stroke-width:1.2"/>
<ellipse cx="900" cy="242" rx="69" ry="156" class="w"/>
<path d="M882,215 L894,198 L910,205 L914,262 L902,282 L885,272 Z" style="stroke-width:1.2"/><path d="M894,198 L902,222 L902,282 M902,222 L914,216"/>
<path d="M160,240 H235 M320,240 H415 M555,240 H635 M715,240 H810 M905,240 H973" class="l"/></g>
<g transform="translate(260 430) scale(0.20321)"><path d="M135,80 V275 M295,80 V250 M0,340 H50 M165,340 H210 M350,340 H375 M185,585 H222 M280,585 H305 L355,440 H372 M160,640 V689 M248,640 V689" class="l"/>
<!-- 22 -->
<path d="M75,295 H172 M75,385 H172 M75,295 Q55,310 55,340 Q55,372 75,385" class="w"/>
<ellipse cx="172" cy="340" rx="19" ry="45" class="w" style="stroke-width:1.2"/><ellipse cx="174" cy="340" rx="12" ry="34"/>
<!-- 21 -->
<path d="M235,272 L320,270 Q352,290 354,345 Q352,395 320,415 L235,412 Q215,390 215,342 Q215,295 235,272Z" class="w" style="stroke-width:1.4"/>
<ellipse cx="322" cy="343" rx="30" ry="72" style="stroke-width:1.3"/><ellipse cx="326" cy="343" rx="20" ry="55"/>
<path d="M240,275 Q225,342 240,410 M262,272 Q250,342 262,412 M285,271 Q275,342 285,413 M235,290 L300,288 M235,396 L300,398" style="stroke-width:.9"/>
<path d="M312,305 H340 M310,325 H345 M310,345 H346 M310,365 H345 M312,385 H340" style="stroke-width:1"/>
<!-- 20 -->
<path d="M178,560 Q170,545 155,548 L140,570 Q136,595 148,615 L165,620 L172,608 Q160,605 158,588 Q158,570 170,568" style="stroke-width:1.2"/>
<!-- 19 -->
<path d="M238,550 H262 Q282,565 280,590 Q280,615 262,626 H238 Q225,612 225,588 Q225,562 238,550Z" class="w" style="stroke-width:1.3"/>
<ellipse cx="262" cy="588" rx="16" ry="36" style="stroke-width:1.3"/><ellipse cx="265" cy="588" rx="10" ry="26"/></g>
<g transform="translate(325 440) scale(0.17416)"><path d="M193,30 V335 M205,75 L207,330 M435,90 H555 M435,90 L395,215 M355,520 L325,620 H372 M85,340 H175 M430,340 H689 M200,243 H400" class="l"/>
<!-- plate outline -->
<path d="M135,150 L170,68 L240,70 L275,120 L300,135 Q360,125 400,180 L425,230 L456,225 L456,415 L440,430 L400,440 L395,470 L380,510 L340,540 L330,560 L288,598 L240,650 L181,698 L146,722 L105,705 L85,640 L55,500 L90,500 L90,480 L50,480 L100,430 L75,420 L60,395 L65,360 L110,320 L120,250 L105,215 L130,215 L130,195 L105,195 L150,180 Z" class="w" style="stroke-width:1.3"/>
<path d="M170,68 L160,160 L150,180 M240,70 L215,100 L210,160 M215,100 L235,165 Q220,250 225,330 Q215,400 190,450 Q150,520 160,600 L178,700"/>
<path d="M260,145 Q235,230 245,330 Q250,420 230,480 Q215,540 240,580 L285,590 M275,165 Q255,240 262,330 Q268,400 255,450 Q240,520 262,560 L330,560"/>
<path d="M300,135 Q280,150 275,165 M295,155 Q350,150 385,195 L405,235 M305,175 Q345,170 372,205 L385,240"/>
<circle cx="185" cy="243" r="18" style="stroke-width:1.2"/>
<!-- hub left -->
<path d="M65,330 L85,315 L110,320 L120,345 L105,370 L75,368 Z" style="stroke-width:1.3"/><ellipse cx="90" cy="345" rx="12" ry="16" style="stroke-width:1.3"/>
<path d="M175,333 H205 V348 H175 Z" style="stroke-width:1.4"/><circle cx="207" cy="340" r="6"/>
<!-- central boss -->
<path d="M330,240 L456,226 M330,400 L456,414 M330,245 Q305,320 330,395 M350,248 Q328,320 350,395 M340,325 H385 M385,248 V398 M400,248 V400" style="stroke-width:1.2"/>
<ellipse cx="456" cy="320" rx="52" ry="95" class="w" style="stroke-width:1.6"/>
<ellipse cx="460" cy="320" rx="42" ry="80" style="stroke-width:1.4"/>
<ellipse cx="463" cy="320" rx="33" ry="66"/>
<path d="M440,300 H470 M438,320 H472 M438,340 H472 M440,360 H470"/>
<path d="M280,380 Q300,360 340,380 L400,410 L440,430"/>
<!-- lower boss -->
<path d="M262,400 Q285,390 300,405 L300,515 Q280,525 262,512 Q248,460 262,400Z" class="w" style="stroke-width:1.5"/>
<path d="M272,402 Q258,460 272,515" />
<path d="M300,408 H350 V512 H300 Z" class="g" style="stroke-width:1.2"/>
<path d="M305,415 V505 M312,415 V505 M319,415 V505 M326,415 V505 M333,415 V505 M340,415 V505 M302,435 H348 M302,460 H348 M302,485 H348" style="stroke:#333;stroke-width:1"/>
<path d="M350,420 Q385,425 388,460 Q385,495 350,502" class="w" style="stroke-width:1.3"/><ellipse cx="365" cy="460" rx="10" ry="15" style="stroke-width:1.3"/>
<path d="M390,440 L410,450 L415,470 L395,480"/>
<path d="M95,655 L110,650 L112,670 M235,655 L245,650 L248,665"/></g>
<g transform="translate(280 520) scale(0.20555)"><path d="M60,185 V255 M148,185 V255 M338,230 V255 M437,220 V255 M557,195 V255 M635,185 V255 M705,185 V255 M808,210 V255 M903,0 V70 M495,140 H525 M575,140 H615 M640,140 H685 M712,140 H750" class="l"/>
<!-- 13 screw -->
<ellipse cx="452" cy="203" rx="9" ry="13" style="stroke-width:1.5"/><path d="M418,196 H445 M418,210 H445 M418,196 V210 M430,196 V210" style="stroke-width:1.3"/>
<!-- 17 -->
<ellipse cx="567" cy="140" rx="42" ry="46" style="stroke-width:1.2"/><ellipse cx="570" cy="140" rx="32" ry="36"/>
<!-- 16,15 -->
<ellipse cx="640" cy="140" rx="24" ry="42"/><ellipse cx="710" cy="140" rx="24" ry="42"/>
<!-- 14 -->
<path d="M775,78 L850,75 Q888,95 886,140 Q885,185 850,205 L775,202 Q752,180 752,140 Q752,100 775,78Z" class="w" style="stroke-width:1.5"/>
<path d="M775,80 Q755,140 775,200 L835,202 Q815,140 835,78 Z" style="fill:#777;stroke-width:1"/>
<path d="M765,90 Q748,140 765,190 M795,80 Q778,140 795,200 M805,80 Q788,140 805,200" style="stroke:#222;stroke-width:1.4"/>
<ellipse cx="852" cy="140" rx="30" ry="63" class="w" style="stroke-width:1.5"/><ellipse cx="856" cy="140" rx="22" ry="50"/></g>
<g transform="translate(400 440) scale(0.17409)"><path d="M355,30 V62 M0,88 H128 M155,440 V465 M272,385 V465 M377,430 V540 M493,430 V540 M632,400 L668,535 M718,395 L672,535 M835,520 V540 M215,340 H250 M300,340 H330 M380,340 H465 M535,340 H595 M660,340 H690 M745,340 H790" class="l"/>
<!-- 12 -->
<path d="M132,78 H170 V100 H132 Z M140,78 V100 M148,78 V100 M156,78 V100 M164,78 V100" style="stroke-width:1.2"/>
<path d="M170,80 L585,93 M170,98 L585,110"/>
<path d="M588,72 L600,62 L628,66 L638,85 L635,118 L620,135 L598,130 L585,112 Z M600,62 L598,130 M605,90 L636,95 M605,104 L636,108" class="w" style="stroke-width:1.4"/>
<!-- 11 -->
<path d="M125,258 H180 Q218,280 216,345 Q215,410 180,432 H125 Q100,405 100,345 Q100,285 125,258Z" class="w" style="stroke-width:1.1"/>
<ellipse cx="180" cy="345" rx="36" ry="87" style="stroke-width:1.4"/><ellipse cx="182" cy="345" rx="27" ry="72" style="stroke-width:1.4"/><ellipse cx="184" cy="345" rx="20" ry="58"/>
<!-- 10 -->
<ellipse cx="275" cy="340" rx="24" ry="42" style="stroke-width:1.5"/><ellipse cx="277" cy="340" rx="18" ry="34"/>
<!-- 9 -->
<ellipse cx="376" cy="338" rx="48" ry="88" class="w" style="stroke-width:1.8"/><ellipse cx="382" cy="338" rx="42" ry="80" style="stroke-width:1.2"/>
<ellipse cx="382" cy="338" rx="32" ry="62"/>
<path d="M365,305 Q385,295 400,320 L385,375 Q370,380 362,360 Z" style="stroke-width:1.1"/>
<!-- 8 -->
<path d="M475,275 Q495,262 515,265 Q540,330 515,412 L495,418 M475,275 Q462,320 468,365 M515,265 L520,275" style="stroke-width:1.3"/>
<!-- 7 -->
<ellipse cx="628" cy="340" rx="34" ry="56" class="w" style="stroke-width:1.3"/><ellipse cx="632" cy="340" rx="24" ry="42" style="stroke-width:1.4"/><ellipse cx="634" cy="340" rx="16" ry="30"/>
<ellipse cx="716" cy="338" rx="34" ry="56" class="w" style="stroke-width:1.3"/><ellipse cx="720" cy="338" rx="24" ry="42" style="stroke-width:1.4"/><ellipse cx="722" cy="338" rx="16" ry="30"/></g>
<g transform="translate(520 430) scale(0.20305)"><path d="M125,490 V510 M340,430 V510 M45,340 H75 M215,340 H300 M360,340 H400 M490,340 H560" class="l"/>
<!-- star 6 arms -->
<path d="M200,255 L168,195 L160,135 L185,100 L215,105 L222,140 L228,200 L235,250 Z" class="w" style="stroke-width:1.2"/>
<path d="M185,100 L190,135 L200,200 L215,250 M160,135 L190,135"/>
<path d="M180,300 L135,255 L105,200 L90,185 L65,190 L60,215 L80,250 L100,290 Q85,340 100,400 L65,460 L60,480 L85,495 L130,480 L165,440 L190,415 Z" class="w" style="stroke-width:1.2"/>
<path d="M65,190 L72,212 L60,215 M72,212 L110,275 L170,320 M100,290 Q125,340 100,400 M60,480 L70,462 L65,460 M70,462 L120,420 L170,385 M110,300 Q120,340 110,385"/>
<path d="M190,425 L175,470 L165,530 L170,570 L205,575 L230,555 L238,500 L240,430 Z" class="w" style="stroke-width:1.2"/>
<path d="M205,575 L210,545 L218,480 L222,430 M170,570 L178,545 L210,545"/>
<path d="M255,300 L275,310 L286,335 L275,362 L255,372" class="w"/>
<path d="M150,262 L185,290 M235,262 L225,285 M150,415 L185,390 M235,410 L225,385" style="stroke-width:1.5"/>
<ellipse cx="215" cy="336" rx="40" ry="90" class="w" style="stroke-width:1.5"/>
<ellipse cx="222" cy="336" rx="32" ry="76" style="stroke-width:1.2"/>
<ellipse cx="217" cy="336" rx="12" ry="26" style="stroke-width:1.5"/>
<!-- 5 -->
<path d="M318,275 Q340,265 365,278 L385,300 Q392,340 385,385 Q370,408 345,402 L315,380 Q300,340 305,300 Z" class="w" style="stroke-width:1.2"/>
<path d="M318,275 Q310,340 322,385 M330,308 L365,305 L375,320 L372,362 L338,365 L328,350 Z M338,318 L365,316 L364,355 L340,357 Z"/></g>
<g transform="translate(570 385) scale(0.20329)"><path d="M312,372 H465" class="l"/>
<!-- arm (upper part, this window) -->
<path d="M240,125 Q228,135 225,150 L210,300 L205,420 L178,480 L165,560 L160,620 L130,760 L100,900 L95,975 L108,1005 L125,1015 L172,890 L200,820 L250,680 L270,620 L285,520 L290,440 L290,300 L285,240 L265,190 L258,130 Z" class="w" style="stroke-width:1.2"/>
<path d="M250,128 Q238,140 236,155 L222,300 L218,425 L190,485 L177,560 L172,625 L142,765 L112,900 L108,975 L118,1000" />
<path d="M260,240 Q275,240 275,255 V425 Q262,445 247,425 V255 Q248,240 260,240Z M255,250 V430"/>
<circle cx="252" cy="480" r="6"/><circle cx="232" cy="620" r="6"/>
<path d="M230,535 H248 Q254,540 252,550 L248,585 Q240,592 228,588 L225,545 Z M235,540 L236,585" style="stroke-width:1.2"/>
<path d="M212,655 Q225,648 232,660 L170,880 Q160,895 148,885 Z M222,655 L160,885"/>
<!-- top knob -->
<path d="M258,108 Q270,90 300,88 L400,90 Q420,80 432,68 Q470,30 525,32 Q600,40 630,110 Q645,170 610,220 Q570,262 515,262 Q460,255 425,210 L400,215 L300,222 Q275,215 265,190 Q255,150 258,108Z" class="w" style="stroke-width:1.2"/>
<path d="M268,100 Q258,150 272,205 M432,68 Q405,130 425,210"/>
<ellipse cx="590" cy="140" rx="44" ry="75" transform="rotate(-8 590 140)" style="stroke-width:1.4"/>
<ellipse cx="592" cy="140" rx="24" ry="40" transform="rotate(-8 592 140)"/>
<ellipse cx="594" cy="140" rx="9" ry="13" style="stroke-width:1.2"/>
<g class="k" style="stroke:none"><circle cx="570" cy="85" r="6"/><circle cx="600" cy="78" r="6"/><circle cx="622" cy="105" r="6"/><circle cx="628" cy="150" r="6"/><circle cx="612" cy="195" r="6"/><circle cx="580" cy="205" r="6"/><circle cx="555" cy="170" r="6"/><circle cx="553" cy="122" r="6"/></g></g>
<g transform="translate(570 470) scale(0.20329)"><path d="M93,230 V300 M345,200 V300 M462,265 V300 M558,265 V300 M125,140 H160 M250,140 H318 M395,140 H430" class="l"/>
<!-- lower knob -->
<path d="M130,495 Q140,482 160,485 L260,490 Q285,480 300,462 Q340,425 395,430 Q465,440 492,505 Q505,570 470,615 Q430,650 380,645 Q330,640 300,618 L260,612 L180,626 Q140,622 122,600 Q112,545 130,495Z" class="w" style="stroke-width:1.2"/>
<path d="M142,490 Q125,545 138,610 M300,462 Q270,530 300,618"/>
<ellipse cx="452" cy="537" rx="44" ry="73" transform="rotate(-8 452 537)" style="stroke-width:1.4"/>
<ellipse cx="454" cy="537" rx="24" ry="40" transform="rotate(-8 454 537)"/>
<ellipse cx="456" cy="537" rx="9" ry="13" style="stroke-width:1.2"/>
<g class="k" style="stroke:none"><circle cx="432" cy="482" r="6"/><circle cx="462" cy="475" r="6"/><circle cx="484" cy="502" r="6"/><circle cx="490" cy="548" r="6"/><circle cx="474" cy="592" r="6"/><circle cx="442" cy="602" r="6"/><circle cx="417" cy="567" r="6"/><circle cx="415" cy="519" r="6"/></g>
<!-- 3 nut -->
<path d="M325,100 L355,92 L375,100 Q398,115 396,142 Q395,170 375,185 L350,190 L325,180 L318,140 Z" class="w" style="stroke-width:1.3"/>
<path d="M338,96 L332,140 L340,186 M355,92 L350,140 L355,190" style="stroke-width:1.2"/>
<ellipse cx="372" cy="142" rx="22" ry="42" style="stroke-width:1.2"/><ellipse cx="376" cy="140" rx="7" ry="10" style="stroke-width:1.5"/>
<!-- 2 -->
<path d="M440,120 L465,60 L500,85 L510,150 L490,210 L468,258 L442,240 L435,180 Z" class="w" style="stroke-width:1.4"/>
<path d="M453,125 L470,82 L492,98 L498,150 L482,200 L470,222 L452,215 L448,178 Z"/><circle cx="460" cy="230" r="8" style="stroke-width:1.2"/>
<!-- 1 -->
<ellipse cx="568" cy="228" rx="9" ry="15" style="stroke-width:1.6"/><path d="M538,220 H560 M538,238 H560 M538,220 V238 M548,220 V238" style="stroke-width:1.3"/></g>
<g transform="translate(0 0.7) scale(1.00000)"><text x="265.5" y="150.6">63</text>
<text x="217.8" y="125.2" class="b" style="font-size:11.5px">A</text>
<text x="448.3" y="110.2">78</text>
<text x="288.1" y="164.2" class="b">32</text>
<text x="306" y="164.2">77</text>
<text x="321.5" y="164">76</text>
<text x="372" y="164.5">75</text>
<text x="347.9" y="213.1">58</text>
<text x="355.6" y="250">57</text>
<text x="474" y="130.4">74</text>
<text x="473.7" y="150.3">73</text>
<text x="473.7" y="168.8">72</text>
<text x="518" y="150.7">71</text>
<text x="535.6" y="150.7">70</text>
<text x="518.2" y="164.2" class="b">69</text>
<text x="551.5" y="150.6">58</text>
<text x="550.7" y="163.7">68,</text>
<text x="566.9" y="163.7">67</text>
<text x="589.3" y="163.7">66</text>
<text x="182.7" y="239.4">64</text>
<text x="229.1" y="245.5" class="b" style="font-size:11.5px">A</text>
<text x="233.5" y="309">62</text>
<text x="135.5" y="357">65</text>
<text x="174.2" y="357">64</text>
<text x="198.6" y="357">63</text>
<text x="248.3" y="309.3">61</text>
<text x="263.1" y="309.3" class="b">20</text>
<text x="310.7" y="357.1">59</text>
<text x="362.5" y="315.8">56</text>
<text x="416.4" y="339.2" class="b">41</text>
<text x="383.6" y="352.1">42</text>
<text x="426.5" y="352.3">43</text>
<text x="364.6" y="380.9" class="b">40</text>
<text x="496.9" y="376.8" class="b">39</text>
<text x="503.4" y="347" class="b">38</text>
<text x="509.5" y="240">55</text>
<text x="532.7" y="240">52</text>
<text x="552.7" y="240">51</text>
<text x="577.3" y="240">50</text>
<text x="589.3" y="240">49</text>
<text x="539" y="282">54</text>
<text x="540" y="295">53</text>
<text x="637.9" y="240.2">48</text>
<text x="702" y="240.2">47</text>
<text x="675.6" y="286.7" class="b">29</text>
<text x="724.7" y="240">46</text>
<text x="742.4" y="240">45</text>
<text x="758.4" y="240">44</text>
<text x="529.7" y="347" class="b">37</text>
<text x="558" y="368.4" class="b">36</text>
<text x="579.3" y="368.4" class="b">35</text>
<text x="599.6" y="368.4" class="b">34</text>
<text x="616.4" y="368.4" class="b">33</text>
<text x="625.5" y="380" class="b">32</text>
<text x="639.6" y="368.4" class="b">31</text>
<text x="653.6" y="368.4" class="b">30</text>
<text x="673.1" y="368.4" class="b">29</text>
<text x="702.5" y="368.4" class="b">28</text>
<text x="128.5" y="542.2" class="b">27</text>
<text x="156.5" y="542.2" class="b">26</text>
<text x="190.5" y="542.2" class="b">25</text>
<text x="222.3" y="542.2" class="b">24</text>
<text x="251" y="542.2" class="b">23</text>
<text x="287.4" y="443.2" class="b">22</text>
<text x="320" y="443.2" class="b">21</text>
<text x="358.2" y="443.2" class="b">13</text>
<text x="292.3" y="581" class="b">20</text>
<text x="309.8" y="581" class="b">19</text>
<text x="348.9" y="581" class="b">18</text>
<text x="369.4" y="581">13</text>
<text x="394.5" y="581">17</text>
<text x="410.5" y="581" class="b">16</text>
<text x="424.9" y="581" class="b">15</text>
<text x="446.1" y="581" class="b">14</text>
<text x="426.4" y="529.2" class="b">11</text>
<text x="447.1" y="529.2" class="b">10</text>
<text x="465.6" y="542" class="b">9</text>
<text x="461.8" y="443.5" class="b">12</text>
<text x="486.2" y="542.1" class="b">8</text>
<text x="515.8" y="542.1" class="b">7</text>
<text x="545.4" y="542.1" class="b">6</text>
<text x="589" y="542" class="b">5</text>
<text x="669.6" y="463.9" class="b">4</text>
<text x="640.1" y="542" class="b">3</text>
<text x="663.9" y="542" class="b">2</text>
<text x="683.4" y="542" class="b">1</text></g>
</g>
</svg>
</body></html>
